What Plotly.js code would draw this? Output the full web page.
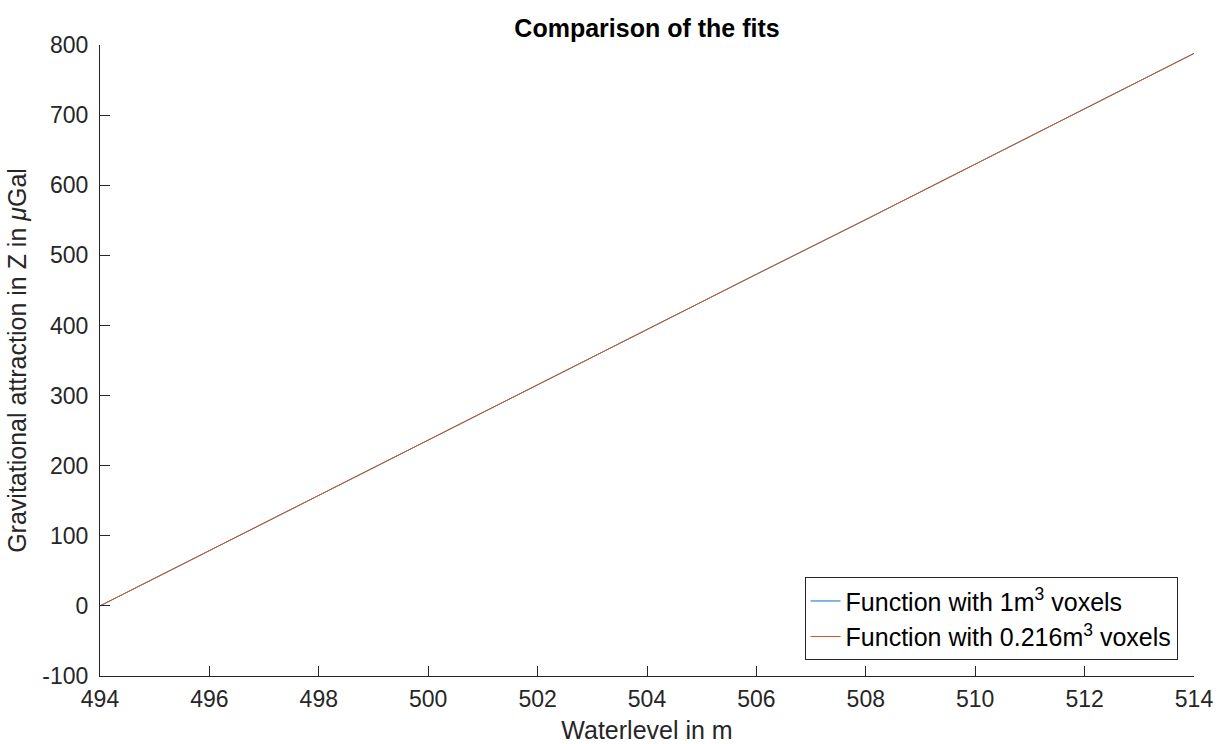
<!DOCTYPE html>
<html>
<head>
<meta charset="utf-8">
<script src="https://cdn.plot.ly/plotly-3.0.1.min.js"></script>
<style>html,body{margin:0;padding:0;background:#fff;}#chart{width:1217px;height:744px;}</style>
</head>
<body>
<div id="chart"></div>
<script>
// Waterlevel (m)
const waterlevel = [494, 496, 498, 500, 502, 504, 506, 508, 510, 512, 514];
// Gravitational attraction (µGal), fit with 1 m^3 voxels
const fit1m3 = [0, 79, 158, 236, 315, 394, 473, 551, 630, 709, 788];
// Gravitational attraction (µGal), fit with 0.216 m^3 voxels
const fit0216m3 = [0, 79, 158, 236, 315, 394, 473, 551, 630, 709, 788];
const xTicks = [494, 496, 498, 500, 502, 504, 506, 508, 510, 512, 514];
const yTicks = [-100, 0, 100, 200, 300, 400, 500, 600, 700, 800];
const seriesNames = ["Function with 1m<sup>3</sup> voxels", "Function with 0.216m<sup>3</sup> voxels"];

const axisColor = '#262626';
const font = 'Arial, "Liberation Sans", Helvetica, sans-serif';

const traces = [
  {x: waterlevel, y: fit1m3, type: 'scatter', mode: 'lines', name: seriesNames[0],
   line: {color: '#0072BD', width: 1}},
  {x: waterlevel, y: fit0216m3, type: 'scatter', mode: 'lines', name: seriesNames[1],
   line: {color: '#D95319', width: 1}}
];

const layout = {
  width: 1217, height: 744,
  paper_bgcolor: '#fff', plot_bgcolor: '#fff',
  margin: {l: 100, r: 23, t: 45, b: 68},
  font: {family: font, color: axisColor, size: 23},
  title: {text: '<b>Comparison of the fits</b>', font: {family: font, size: 25, color: '#000'},
          x: 0.5, xref: 'paper', xanchor: 'center', y: 1 - 28/744, yref: 'container', yanchor: 'middle'},
  xaxis: {
    range: [494, 514], tickvals: xTicks, ticktext: xTicks.map(String),
    ticks: 'inside', ticklen: 10, tickcolor: axisColor, tickwidth: 1,
    showline: true, linecolor: axisColor, linewidth: 1, mirror: false,
    showgrid: false, zeroline: false, ticklabelstandoff: 2,
    tickfont: {size: 23, color: axisColor},
    title: {text: 'Waterlevel in m', font: {size: 25, color: axisColor}, standoff: 12}
  },
  yaxis: {
    range: [-100, 800], tickvals: yTicks, ticktext: yTicks.map(String),
    ticks: 'inside', ticklen: 10, tickcolor: axisColor, tickwidth: 1,
    showline: true, linecolor: axisColor, linewidth: 1, mirror: false,
    showgrid: false, zeroline: false, ticklabelstandoff: 6,
    tickfont: {size: 23, color: axisColor},
    title: {text: 'Gravitational attraction in Z in <i>μ</i>Gal', font: {size: 25, color: axisColor}, standoff: 8}
  },
  showlegend: true,
  legend: {
    x: 0.985, y: 0.025, xanchor: 'right', yanchor: 'bottom',
    bgcolor: '#fff', bordercolor: axisColor, borderwidth: 1,
    font: {size: 25, color: '#000'}, tracegroupgap: 0
  }
};

Plotly.newPlot('chart', traces, layout, {displayModeBar: false, staticPlot: true});
</script>
</body>
</html>
